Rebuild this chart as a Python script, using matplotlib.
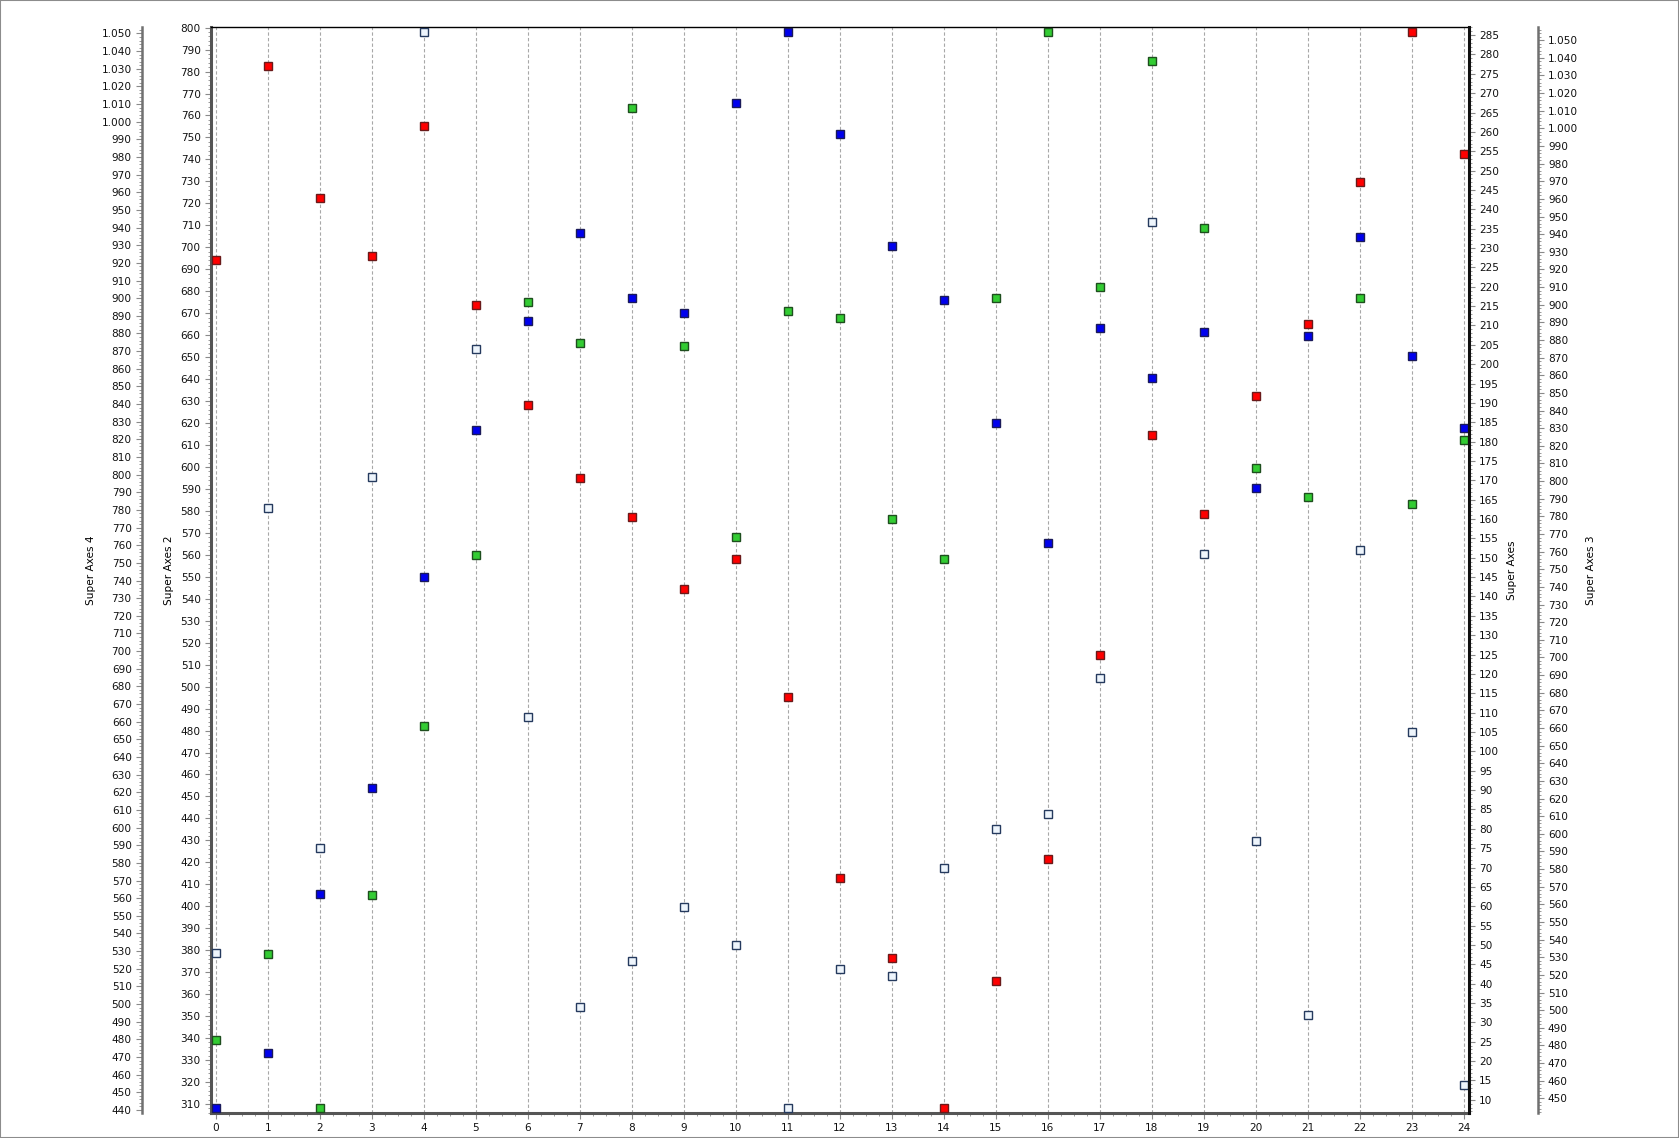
"""Four-axis scatter chart: square markers over 25 slots with stacked y axes."""

import matplotlib

matplotlib.use("Agg")
import matplotlib.pyplot as plt
from matplotlib.patches import Rectangle
from matplotlib.ticker import FuncFormatter, MultipleLocator

# x positions (one marker per series per slot)
slots = list(range(25))

# values read against the "Super Axes 2" scale (left inner axis)
red_values = [694.3, 782.6, 722.6, 696.2, 755.0, 673.6, 628.0, 594.9, 577.2, 544.3,
              558.1, 495.2, 412.9, 376.5, 308.2, 366.0, 421.6, 514.6, 614.4, 578.8,
              632.1, 665.0, 729.9, 798.1, 742.5]
blue_values = [308.2, 333.1, 405.5, 453.8, 549.8, 616.6, 666.3, 706.6, 676.8, 669.9,
               765.8, 798.1, 751.8, 700.7, 676.1, 619.8, 565.4, 663.1, 640.7, 661.6,
               590.6, 659.4, 704.9, 650.3, 617.6]
green_values = [339.1, 378.2, 308.0, 405.1, 481.9, 560.1, 675.3, 656.4, 763.3, 655.2,
                567.9, 671.2, 668.0, 576.2, 558.1, 677.1, 798.2, 682.1, 785.0, 709.0,
                599.4, 586.1, 677.1, 583.0, 612.2]
white_values = [378.7, 581.2, 426.4, 595.2, 798.1, 653.5, 486.0, 354.1, 375.2, 399.7,
                382.4, 308.2, 371.5, 368.3, 417.4, 435.3, 442.0, 503.9, 711.7, 560.3,
                429.8, 350.5, 562.2, 479.4, 318.8]

axis_titles = ["Super Axes 2", "Super Axes 4", "Super Axes", "Super Axes 3"]

FONT = 7.6
TICK_GRAY = "#8a8a8a"


def dotted_thousands(value, _pos):
    return f"{value:,.0f}".replace(",", ".")


def style_ticks(axis, major, minor):
    axis.yaxis.set_major_locator(MultipleLocator(major))
    axis.yaxis.set_minor_locator(MultipleLocator(minor))
    axis.tick_params(axis="y", which="major", direction="out", length=4,
                     width=0.8, color=TICK_GRAY, labelsize=FONT, pad=3.2,
                     labelcolor="#111111")
    axis.tick_params(axis="y", which="minor", direction="out", length=2,
                     width=0.6, color=TICK_GRAY)


def only_spine(axis, name, color, width):
    for key, spine in axis.spines.items():
        spine.set_visible(key == name)
    axis.spines[name].set_color(color)
    axis.spines[name].set_linewidth(width)


fig = plt.figure(figsize=(16.79, 11.38), dpi=100)
fig.patch.set_facecolor("white")
ax = fig.add_axes([0.1255, 0.0220, 0.7494, 0.9543])

# host axis: Super Axes 2
ax.set_xlim(-0.1, 24.1)
ax.set_ylim(305.9, 800.3)
style_ticks(ax, 10, 2)
ax.xaxis.set_major_locator(MultipleLocator(1))
ax.xaxis.set_minor_locator(MultipleLocator(0.25))
ax.tick_params(axis="x", which="major", direction="out", length=4, width=0.8,
               color=TICK_GRAY, labelsize=FONT, labelcolor="#111111")
ax.tick_params(axis="x", which="minor", direction="out", length=2, width=0.6,
               color=TICK_GRAY)
ax.xaxis.grid(True, linestyle=(0, (3, 2)), color="#a8a8a8", linewidth=0.8)
ax.set_axisbelow(True)
ax.spines["left"].set_color("#555555")
ax.spines["left"].set_linewidth(2.2)
ax.spines["bottom"].set_color("#555555")
ax.spines["bottom"].set_linewidth(2.2)
ax.spines["top"].set_color("black")
ax.spines["top"].set_linewidth(1.0)
ax.spines["right"].set_visible(False)
ax.set_ylabel(axis_titles[0], fontsize=FONT)
ax.yaxis.set_label_coords(-0.0291, 0.5)

# left outer: Super Axes 4
ax_left = ax.twinx()
ax_left.yaxis.tick_left()
ax_left.yaxis.set_label_position("left")
only_spine(ax_left, "left", "#707070", 1.8)
ax_left.spines["left"].set_position(("axes", -0.0548))
ax_left.set_ylim(438.3, 1053.7)
style_ticks(ax_left, 10, 2)
ax_left.yaxis.set_major_formatter(FuncFormatter(dotted_thousands))
ax_left.set_ylabel(axis_titles[1], fontsize=FONT)
ax_left.yaxis.set_label_coords(-0.0911, 0.5)

# right inner: Super Axes
ax_right = ax.twinx()
only_spine(ax_right, "right", "#111111", 2.2)
ax_right.set_ylim(6.6, 287.1)
style_ticks(ax_right, 5, 1)
ax_right.set_ylabel(axis_titles[2], fontsize=FONT)
ax_right.yaxis.set_label_coords(1.0303, 0.5)

# right outer: Super Axes 3
ax_far = ax.twinx()
only_spine(ax_far, "right", "#707070", 1.8)
ax_far.spines["right"].set_position(("axes", 1.0548))
ax_far.set_ylim(441.7, 1057.5)
style_ticks(ax_far, 10, 2)
ax_far.yaxis.set_major_formatter(FuncFormatter(dotted_thousands))
ax_far.set_ylabel(axis_titles[3], fontsize=FONT)
ax_far.yaxis.set_label_coords(1.0927, 0.5)

series = [
    (red_values, "#ff0000", "#6a1a1a"),
    (blue_values, "#0000ee", "#1a1a5a"),
    (green_values, "#33cc33", "#1e4e1e"),
    (white_values, "#eef5fc", "#253a5e"),
]
for values, fill, edge in series:
    ax.plot(slots, values, linestyle="none", marker="s", markersize=5.6,
            markerfacecolor=fill, markeredgecolor=edge, markeredgewidth=1.0,
            clip_on=False, zorder=5)

fig.patches.append(Rectangle((0, 0), 1, 1, transform=fig.transFigure,
                             fill=False, edgecolor="#8c8c8c", linewidth=1.5))

fig.savefig("out.png", dpi=100, facecolor="white")
